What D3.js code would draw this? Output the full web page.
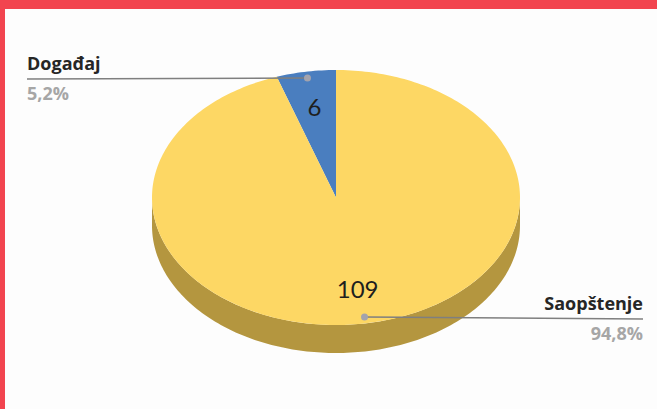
<!DOCTYPE html>
<html>
<head>
<meta charset="utf-8">
<script src="https://cdn.jsdelivr.net/npm/d3@7"></script>
<style>
  html, body { margin: 0; padding: 0; background: #f2444f; }
  #canvas { width: 657px; height: 409px; }
</style>
</head>
<body>
<div id="canvas"></div>
<script>
var categories = ['Događaj', 'Saopštenje'];
var values = [6, 109];
var topColors = ['#4a7ebf', '#fdd764'];
var sideColors = ['#2f5487', '#b4963f'];

var canvasWidth = 657,
    canvasHeight = 409;

var svg = d3.select('#canvas')
  .append('svg')
  .attr('width', canvasWidth)
  .attr('height', canvasHeight);

// white card inside red frame
svg.append('rect')
  .attr('x', 5).attr('y', 9)
  .attr('width', canvasWidth - 5).attr('height', canvasHeight - 9)
  .style('fill', '#fdfdfd');

var cx = 336, cy = 197.5, rx = 184, ry = 127.5, depth = 28;
var total = d3.sum(values);

var pie = d3.pie().sort(null)
  .startAngle(-2 * Math.PI * values[0] / total)
  .endAngle(2 * Math.PI - 2 * Math.PI * values[0] / total);
var slices = pie(values);

function pt(a, r, dy) {
  return [cx + rx * r * Math.sin(a), cy - ry * r * Math.cos(a) + (dy || 0)];
}
function arcPts(a0, a1, dy) {
  var n = Math.max(2, Math.ceil(Math.abs(a1 - a0) / 0.02));
  return d3.range(n + 1).map(function(i) { return pt(a0 + (a1 - a0) * i / n, 1, dy); });
}
var line = d3.line();

// side walls (front half only)
slices.forEach(function(s, i) {
  var a0 = Math.max(s.startAngle, Math.PI / 2),
      a1 = Math.min(s.endAngle, 3 * Math.PI / 2);
  if (a1 <= a0) return;
  var p = arcPts(a0, a1, 0).concat(arcPts(a1, a0, depth));
  svg.append('path')
    .attr('d', line(p) + 'Z')
    .style('fill', sideColors[i]);
});

// top faces
slices.forEach(function(s, i) {
  var p = [[cx, cy]].concat(arcPts(s.startAngle, s.endAngle, 0));
  svg.append('path')
    .attr('d', line(p) + 'Z')
    .style('fill', topColors[i]);
});

// value labels
slices.forEach(function(s) {
  var m = (s.startAngle + s.endAngle) / 2;
  var p = pt(m, 0.72);
  svg.append('text')
    .attr('x', p[0]).attr('y', p[1])
    .attr('text-anchor', 'middle')
    .attr('dominant-baseline', 'central')
    .style('font-family', 'Lato, sans-serif')
    .style('font-size', '24px')
    .style('fill', '#1e1e1e')
    .text(s.data);
});

// category labels with leader lines
var fmt = function(v) { return (v / total * 100).toFixed(1).replace('.', ',') + '%'; };
var labelPos = [
  {x: 27, y: 79, anchor: 'start'},
  {x: 643, y: 319, anchor: 'end'}
];
slices.forEach(function(s, i) {
  var m = (s.startAngle + s.endAngle) / 2;
  var d = pt(m, 0.95);
  var L = labelPos[i];
  svg.append('line')
    .attr('x1', d[0]).attr('y1', d[1])
    .attr('x2', L.x).attr('y2', L.y)
    .style('stroke', '#7f7f7f')
    .style('stroke-width', 1.5);
  svg.append('circle')
    .attr('cx', d[0]).attr('cy', d[1]).attr('r', 3.5)
    .style('fill', '#a3a3ad');
  svg.append('text')
    .attr('x', L.x).attr('y', L.y - 9)
    .attr('text-anchor', L.anchor)
    .style('font-family', '"Open Sans", sans-serif')
    .style('font-weight', 'bold')
    .style('font-size', '18px')
    .style('fill', '#262626')
    .text(categories[i]);
  svg.append('text')
    .attr('x', L.x).attr('y', L.y + 21)
    .attr('text-anchor', L.anchor)
    .style('font-family', '"Open Sans", sans-serif')
    .style('font-weight', 'bold')
    .style('font-size', '18px')
    .style('fill', '#a6a6a6')
    .text(fmt(values[i]));
});
</script>
</body>
</html>
